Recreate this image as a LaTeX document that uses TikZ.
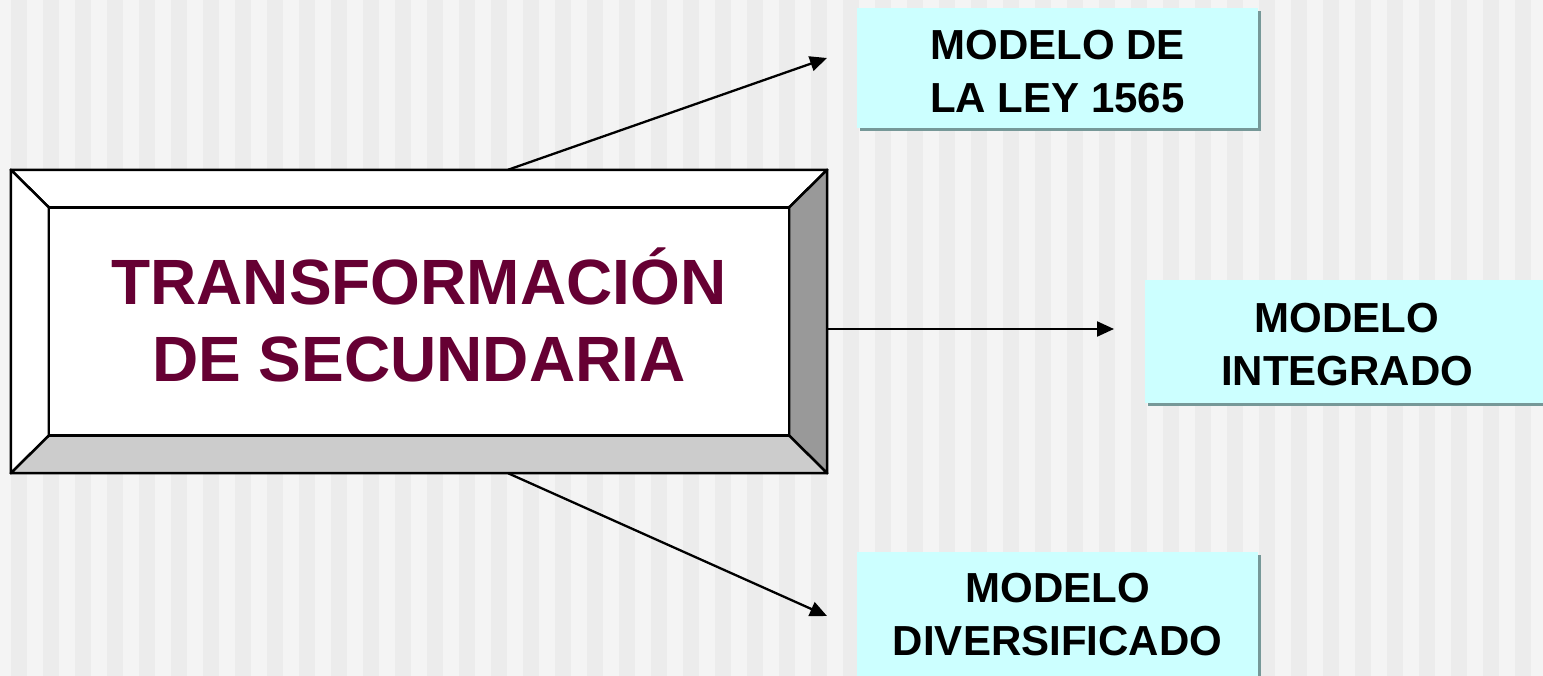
\documentclass[tikz,border=0pt]{standalone}
\usepackage{fontspec}
\setmainfont{Liberation Sans}
\usetikzlibrary{arrows.meta,shadows,calc}
\definecolor{bglight}{HTML}{F4F4F4}
\definecolor{bgdark}{HTML}{ECECEC}
\definecolor{boxcyan}{HTML}{CCFFFF}
\definecolor{boxshadow}{RGB}{118,152,152}
\definecolor{titlecol}{HTML}{660033}
\definecolor{bevelright}{HTML}{999999}
\definecolor{bevelbottom}{HTML}{CCCCCC}
\tikzset{
  cyanbox/.style={rectangle, fill=boxcyan, inner sep=0pt,
    drop shadow={shadow xshift=3pt, shadow yshift=-3pt, fill=boxshadow, opacity=1}},
  boxtext/.style={align=center, inner sep=0pt, text=black,
    font=\fontsize{42}{53}\selectfont\bfseries},
  titletext/.style={align=center, inner sep=0pt, text=titlecol,
    font=\fontsize{64}{77}\selectfont\bfseries},
  frame/.style={draw=black, line width=2.5pt, line join=round},
  conn/.style={draw=black, line width=2.3pt, -{Triangle[length=17pt,width=15pt]}}
}
\begin{document}
\begin{tikzpicture}[x=1pt,y=-1pt]
\useasboundingbox (0,0) rectangle (1543,676);
% background stripes
\fill[bglight] (0,0) rectangle (1543,676);
\foreach \k in {0,...,48} {
  \fill[bgdark] ({11+32*\k},0) rectangle ({27+32*\k},676);
}
% main bevelled box
\node[rectangle, minimum width=816pt, minimum height=303pt, inner sep=0pt] (main) at (419,321.5) {};
\node[rectangle, minimum width=740pt, minimum height=228pt, inner sep=0pt] (inner) at (419,321.5) {};
\filldraw[frame, fill=white] (main.north west) -- (main.north east) -- (inner.north east) -- (inner.north west) -- cycle;
\filldraw[frame, fill=white] (main.north west) -- (inner.north west) -- (inner.south west) -- (main.south west) -- cycle;
\filldraw[frame, fill=bevelright] (main.north east) -- (main.south east) -- (inner.south east) -- (inner.north east) -- cycle;
\filldraw[frame, fill=bevelbottom] (main.south west) -- (inner.south west) -- (inner.south east) -- (main.south east) -- cycle;
\filldraw[frame, fill=white, line join=miter] (inner.north west) rectangle (inner.south east);
\draw[frame, line join=miter] (main.north west) rectangle (main.south east);
\node[titletext] (title) at (419,314.5) {TRANSFORMACIÓN\\DE SECUNDARIA};
% target boxes
\node[cyanbox, minimum width=401pt, minimum height=120pt] (m1) at (1057.5,68) {};
\node[boxtext] (m1t) at (1057.5,71.5) {MODELO DE\\LA LEY 1565};
\node[cyanbox, minimum width=404pt, minimum height=123pt] (m2) at (1347,341.5) {};
\node[boxtext] (m2t) at (1347,344.5) {MODELO\\INTEGRADO};
\node[cyanbox, minimum width=401pt, minimum height=128pt] (m3) at (1057.5,616) {};
\node[boxtext] (m3t) at (1057.5,614.5) {MODELO\\DIVERSIFICADO};
% connector end points
\coordinate (s1) at ($(main.north west)!0.609!(main.north east)$);
\coordinate (s3) at ($(main.south west)!0.609!(main.south east)$);
\coordinate (s2) at ([yshift=-7.5pt]main.east);
\coordinate (e1) at (827,58);
\coordinate (e2) at (1114,329);
\coordinate (e3) at (827,616);
\draw[conn] (s1) -- (e1);
\draw[conn] (s2) -- (e2);
\draw[conn] (s3) -- (e3);
\end{tikzpicture}
\end{document}
